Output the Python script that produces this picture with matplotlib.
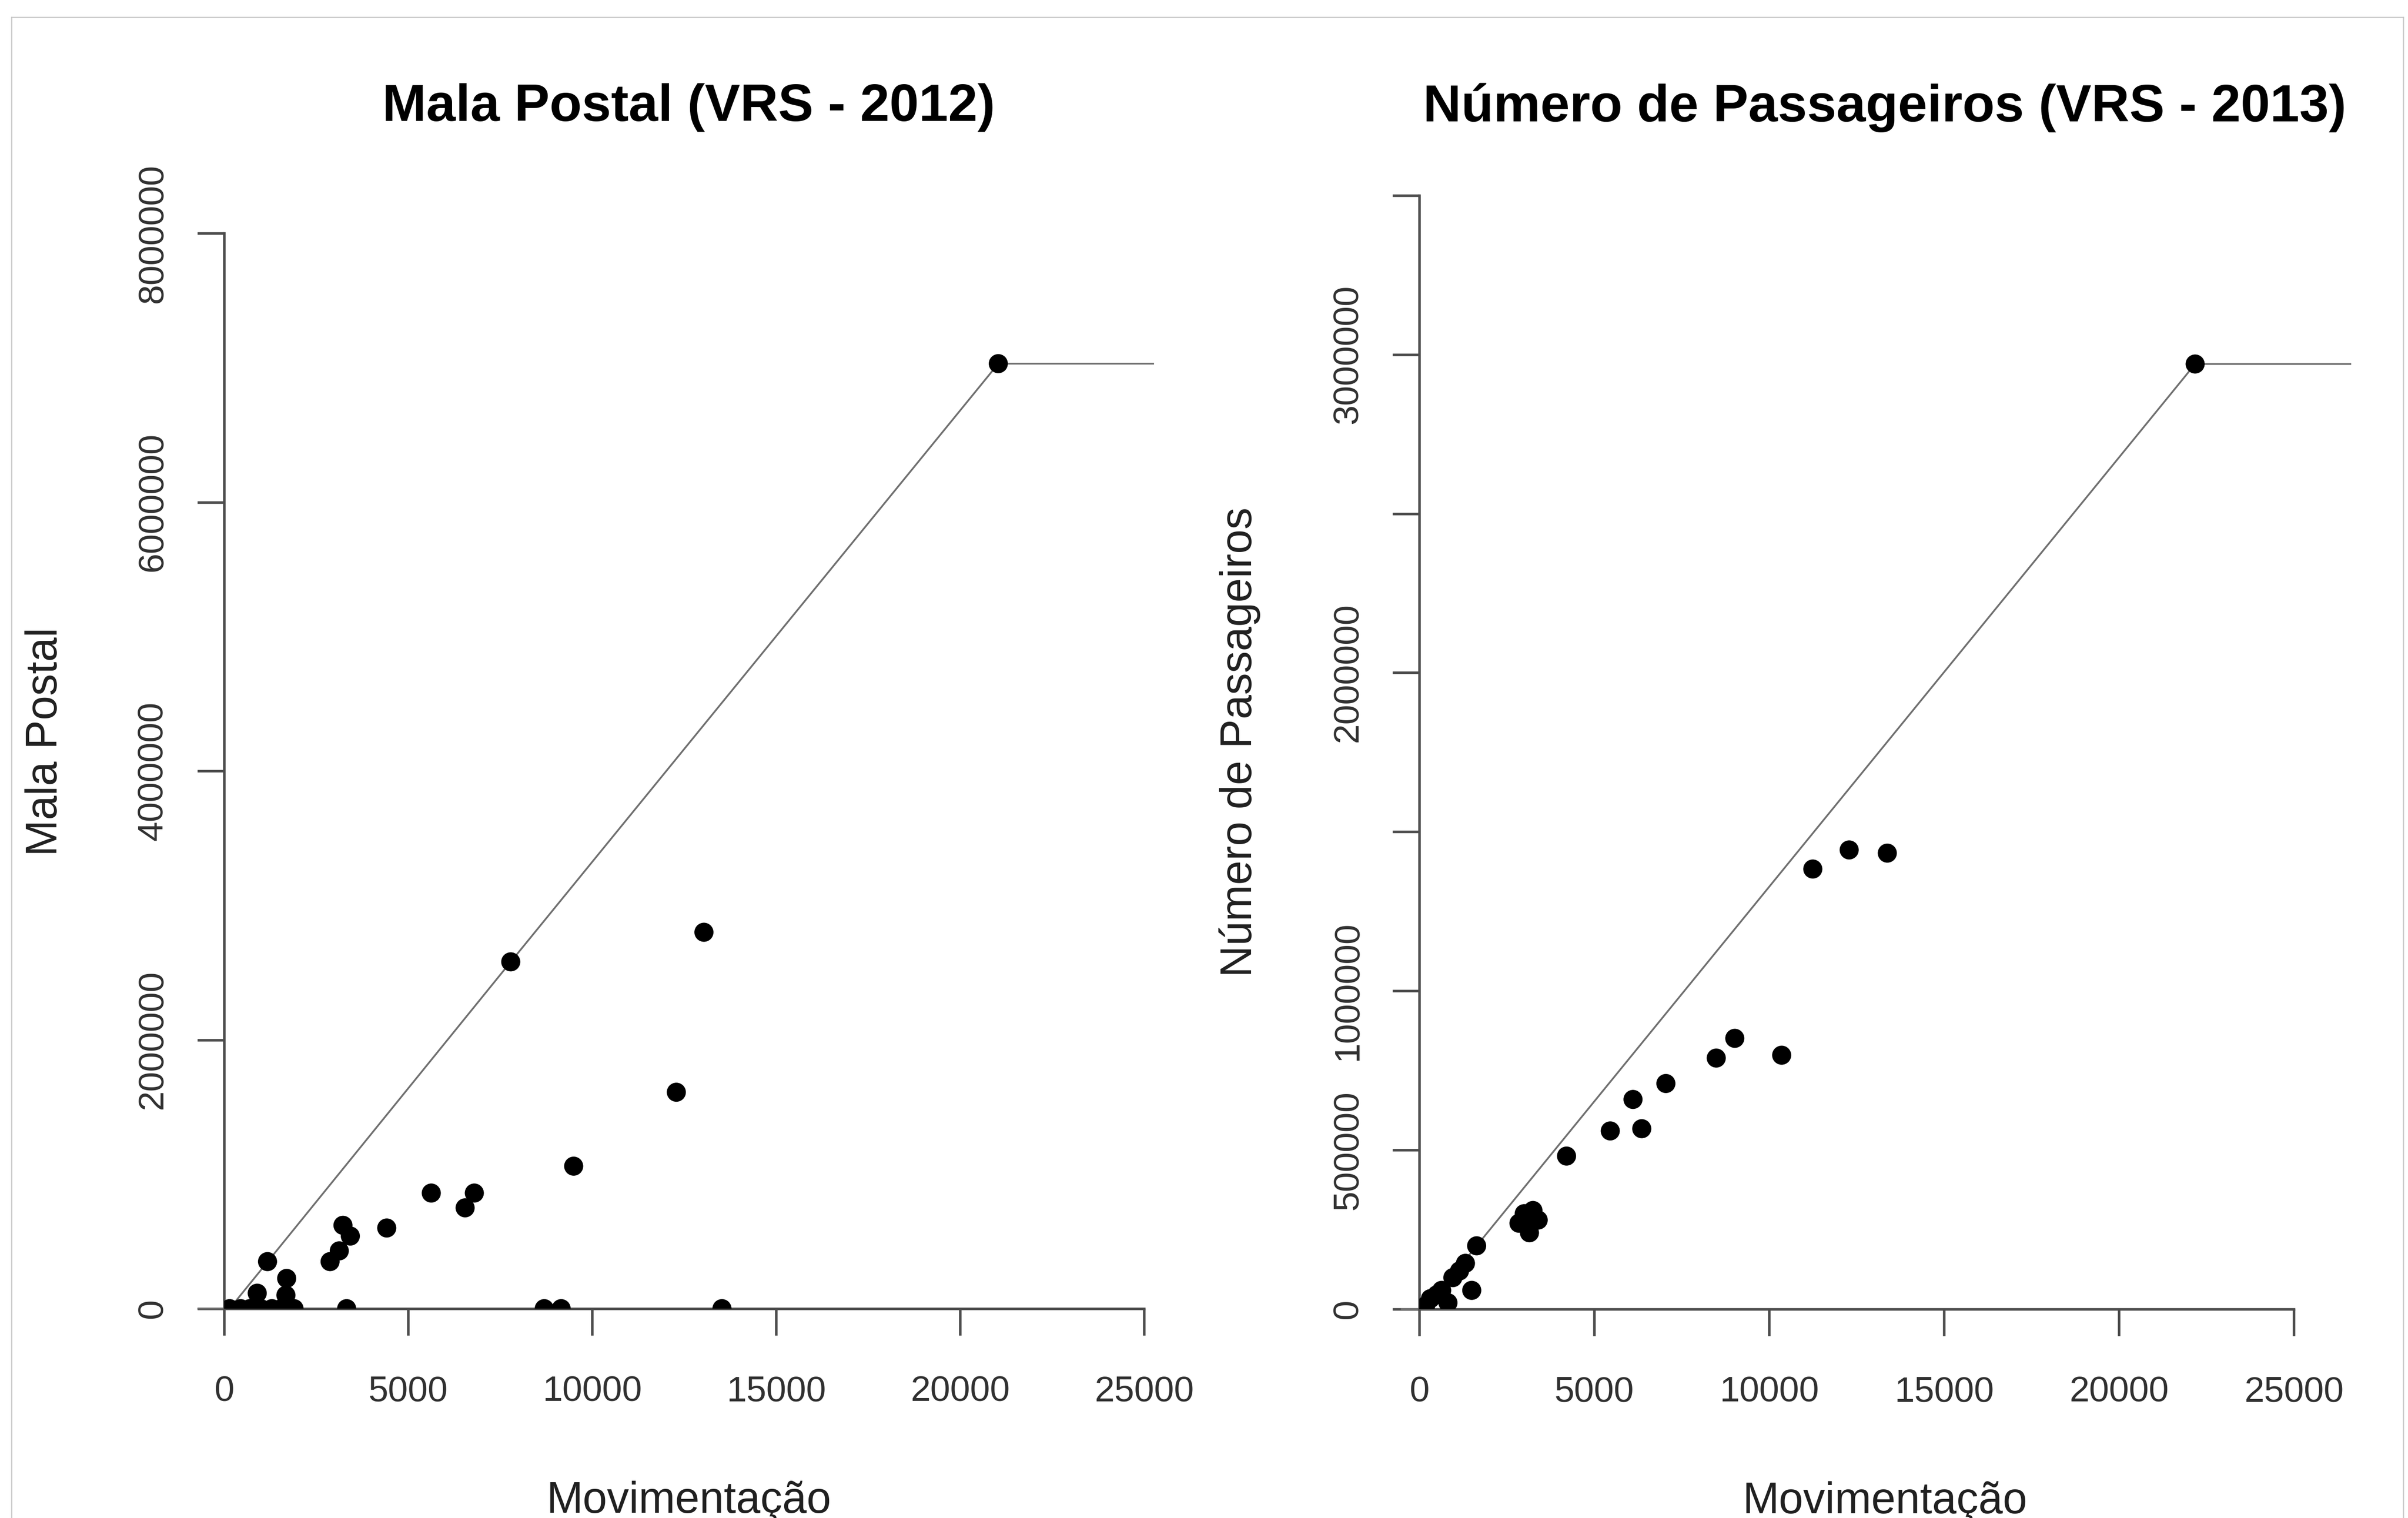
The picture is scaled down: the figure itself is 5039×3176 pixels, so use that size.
import matplotlib
matplotlib.use('Agg')
import matplotlib.pyplot as plt
from matplotlib.lines import Line2D

# Mala Postal (VRS - 2012): movimentação x mala postal
mov_2012 = [21040, 7790, 13040, 12290, 9500, 5630, 6800, 6550, 4420, 3230,
            3430, 3130, 2880, 1180, 1700, 1680, 900, 150, 450, 700,
            1000, 1300, 1550, 1900, 3330, 8700, 9160, 13530]
mala_2012 = [7030000, 2580000, 2800000, 1610000, 1060000, 860000, 860000, 750000, 600000, 620000,
             540000, 430000, 350000, 350000, 225000, 100000, 115000, 0, 0, 0,
             0, 0, 0, 0, 0, 0, 0, 0]
fronteira_x_2012 = [-700, 150, 7790, 21040]
fronteira_y_2012 = [0, 0, 2580000, 7030000]

# Número de Passageiros (VRS - 2013): movimentação x passageiros
mov_2013 = [22180, 11250, 12290, 13380, 9020, 8490, 10360, 7050, 6110, 5460,
            6360, 4210, 2850, 3000, 3150, 3250, 3400, 3100, 1640, 1320,
            960, 1500, 640, 320, 180, 820, 1150, 500]
pass_2013 = [2970000, 1383000, 1443000, 1433000, 851000, 789000, 798000, 709000, 659000, 560000,
             567000, 481000, 270000, 300000, 240000, 310000, 280000, 265000, 199000, 144000,
             99000, 59000, 59000, 33000, 10000, 20000, 120000, 45000]
fronteira_x_2013 = [-500, 160, 1640, 22180]
fronteira_y_2013 = [0, 0, 199000, 2970000]

x_ticks = [0, 5000, 10000, 15000, 20000, 25000]
x_labels = ['0', '5000', '10000', '15000', '20000', '25000']
y_ticks_2012 = [0, 2000000, 4000000, 6000000, 8000000]
y_labels_2012 = ['0', '2000000', '4000000', '6000000', '8000000']
y_ticks_2013 = [0, 500000, 1000000, 1500000, 2000000, 2500000, 3000000, 3500000]
y_labels_2013 = ['0', '500000', '1000000', '', '2000000', '', '3000000', '']

plt.rcParams['font.family'] = 'Liberation Sans'
axis_col = '#4d4d4d'

fig = plt.figure(figsize=(5039 / 300, 3176 / 300), dpi=300)


def dea_plot(rect, x, y, fx, fy, yticks, ylabels, title, ylabel):
    ax = fig.add_axes(rect)
    xmax = 1.2 * max(x)
    ymax = 1.2 * max(y)
    ax.set_xlim(0, xmax)
    ax.set_ylim(0, ymax)

    # fronteira VRS, horizontal depois do último ponto eficiente
    ax.plot(fx + [xmax], fy + [fy[-1]], color='#707070', lw=0.9,
            clip_on=False, zorder=2)
    ax.scatter(x, y, s=92, color='black', edgecolors='none', zorder=3)

    ax.spines['top'].set_visible(False)
    ax.spines['right'].set_visible(False)
    ax.spines['left'].set_bounds(0, yticks[-1])
    ax.spines['bottom'].set_bounds(0, x_ticks[-1])
    for side in ['left', 'bottom']:
        ax.spines[side].set_color(axis_col)
        ax.spines[side].set_linewidth(1.3)

    ax.set_xticks(x_ticks, labels=x_labels, fontsize=18)
    ax.set_yticks(yticks, labels=ylabels, rotation=90, va='center', fontsize=18)
    ax.tick_params(direction='out', length=13.5, width=1.3, color=axis_col,
                   labelcolor='#303030')
    ax.tick_params(axis='x', pad=20)
    ax.tick_params(axis='y', pad=14)

    ax.set_title(title, fontsize=26.5, fontweight='bold', pad=27)
    ax.set_xlabel('Movimentação', fontsize=22, va='baseline', color='#202020')
    ax.xaxis.set_label_coords(0.5, -0.18)
    ax.set_ylabel(ylabel, fontsize=22, va='baseline', color='#202020')
    ax.yaxis.set_label_coords(-0.18, 0.5)
    return ax


dea_plot([0.09307, 0.13791, 0.38581, 0.74704], mov_2012, mala_2012,
         fronteira_x_2012, fronteira_y_2012, y_ticks_2012, y_labels_2012,
         'Mala Postal (VRS - 2012)', 'Mala Postal')
dea_plot([0.58940, 0.13759, 0.38664, 0.74714], mov_2013, pass_2013,
         fronteira_x_2013, fronteira_y_2013, y_ticks_2013, y_labels_2013,
         'Número de Passageiros (VRS - 2013)', 'Número de Passageiros')

# moldura cinza em volta da figura
borda = dict(transform=fig.transFigure, color='#c8c8c8', lw=0.6)
fig.add_artist(Line2D([0.00476, 0.00476], [0, 0.98866], **borda))
fig.add_artist(Line2D([0.00476, 0.99802], [0.98866, 0.98866], **borda))
fig.add_artist(Line2D([0.99802, 0.99802], [0, 0.98866], **borda))

fig.savefig('out.png', dpi=300)
